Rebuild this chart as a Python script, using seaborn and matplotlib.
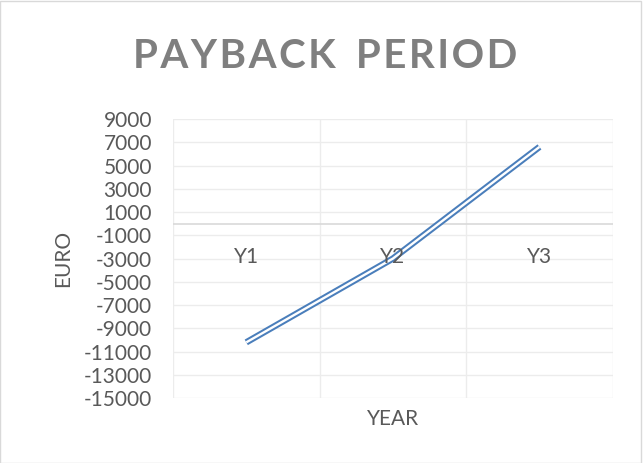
import matplotlib
matplotlib.use("Agg")
import matplotlib.pyplot as plt
import seaborn as sns
import pandas as pd

years = ["Y1", "Y2", "Y3"]
cash_flow = [-10200, -3000, 6600]
y_ticks = list(range(-15000, 9001, 2000))
title = "PAYBACK PERIOD"

df = pd.DataFrame({"YEAR": years, "EURO": cash_flow})

sns.set_theme(style="white")
plt.rcParams["font.family"] = ["Lato", "DejaVu Sans"]

fig = plt.figure(figsize=(6.43, 4.63), dpi=100)
ax = fig.add_axes([0.269, 0.140, 0.684, 0.603])

# compound (double) line: wide blue stroke with a white core
sns.lineplot(data=df, x="YEAR", y="EURO", ax=ax, color="#4a7ebb",
             linewidth=4.6, sort=False, solid_capstyle="butt")
sns.lineplot(data=df, x="YEAR", y="EURO", ax=ax, color="white",
             linewidth=1.7, sort=False, solid_capstyle="butt")

ax.set_ylim(-15000, 9000)
ax.set_xlim(-0.5, len(years) - 0.5)
ax.set_yticks(y_ticks)
ax.set_yticklabels([str(t) for t in y_ticks], fontsize=15, color="#595959")
ax.tick_params(axis="y", length=0, pad=15)

# category boundaries as vertical gridlines; labels sit by the zero line
ax.set_xticks([i - 0.5 for i in range(len(years) + 1)])
ax.set_xticklabels([])
ax.tick_params(axis="x", length=0)
ax.grid(True, color="#ececec", linewidth=1.0)
ax.set_axisbelow(True)
for s in ax.spines.values():
    s.set_visible(False)
ax.axhline(0, color="#d9d9d9", linewidth=1.2, zorder=1)
for i, lab in enumerate(years):
    ax.annotate(lab, (i, 0), xytext=(0, -24), textcoords="offset points",
                ha="center", va="center", fontsize=15, color="#595959")

ax.set_xlabel("YEAR", fontsize=15, color="#595959", labelpad=4)
ax.set_ylabel("EURO", fontsize=15, color="#595959", labelpad=8)

# letter-spaced bold title
spaced = "\u200a".join(title).replace("\u200a \u200a", "\u2002")
fig.text(0.506, 0.877, spaced, ha="center", va="center",
         fontsize=29, fontweight="bold", color="#7f7f7f")

fig.add_artist(plt.Rectangle((0.0, 0.0), 0.997, 0.998, transform=fig.transFigure,
                             fill=False, edgecolor="#d9d9d9", linewidth=1.0))

fig.savefig("out.png", dpi=100, facecolor="white")
